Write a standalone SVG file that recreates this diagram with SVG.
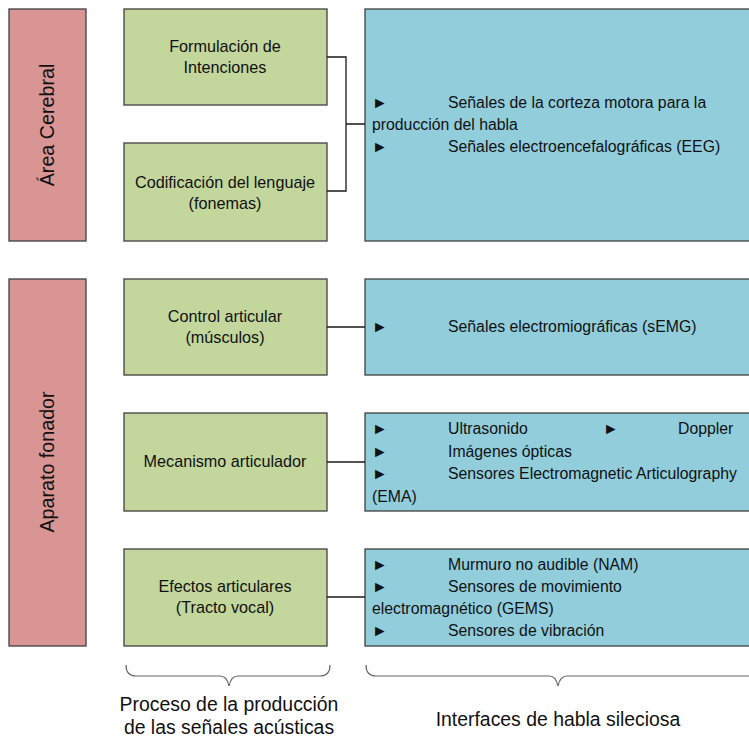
<svg xmlns="http://www.w3.org/2000/svg" width="749" height="740" viewBox="0 0 749 740">
<style>
text{font-family:"Liberation Sans",Arial,sans-serif;fill:#111}
.red{fill:#d99594;stroke:#404040;stroke-width:1.3}
.green{fill:#c3d69b;stroke:#404040;stroke-width:1.3}
.blue{fill:#92cddc;stroke:#404040;stroke-width:1.3}
.c{font-size:16.2px;text-anchor:middle}
.b{font-size:15.8px}
.v{font-size:19.7px;text-anchor:middle}
.lbl{font-size:19.4px;text-anchor:middle}
.conn{fill:none;stroke:#1a1a1a;stroke-width:1.3}
.brace{fill:none;stroke:#666;stroke-width:1.2}
</style>
<rect width="749" height="740" fill="#fff"/>
<g id="area-cerebral"><rect class="red" x="9" y="9" width="77" height="232"/><text class="v" transform="translate(54,125) rotate(-90)">Área Cerebral</text></g>
<g id="aparato-fonador"><rect class="red" x="9" y="279" width="77" height="367"/><text class="v" transform="translate(54,462) rotate(-90)">Aparato fonador</text></g>
<g id="formulacion"><rect class="green" x="124" y="9" width="203" height="96"/><text class="c" x="225" y="52">Formulación de</text><text class="c" x="225" y="73">Intenciones</text></g>
<g id="codificacion"><rect class="green" x="124" y="143" width="203" height="98"/><text class="c" x="225" y="188">Codificación del lenguaje</text><text class="c" x="225" y="209">(fonemas)</text></g>
<g id="control"><rect class="green" x="124" y="279" width="203" height="96"/><text class="c" x="225" y="322">Control articular</text><text class="c" x="225" y="343">(músculos)</text></g>
<g id="mecanismo"><rect class="green" x="124" y="413" width="203" height="98"/><text class="c" x="225" y="467">Mecanismo articulador</text></g>
<g id="efectos"><rect class="green" x="124" y="549" width="203" height="97"/><text class="c" x="225" y="592">Efectos articulares</text><text class="c" x="225" y="613">(Tracto vocal)</text></g>
<g id="senales-corteza"><rect class="blue" x="365" y="9" width="400" height="232"/>
<text class="b" x="372" y="108">►</text><text class="b" x="448" y="108">Señales de la corteza motora para la</text>
<text class="b" x="372" y="130">producción del habla</text>
<text class="b" x="372" y="152">►</text><text class="b" x="448" y="152">Señales electroencefalográficas (EEG)</text></g>
<g id="semg"><rect class="blue" x="365" y="279" width="400" height="96"/>
<text class="b" x="372" y="332">►</text><text class="b" x="448" y="332">Señales electromiográficas (sEMG)</text></g>
<g id="ultrasonido"><rect class="blue" x="365" y="413" width="400" height="98"/>
<text class="b" x="372" y="434">►</text><text class="b" x="448" y="434">Ultrasonido</text><text class="b" x="603" y="434">►</text><text class="b" x="678" y="434">Doppler</text>
<text class="b" x="372" y="457">►</text><text class="b" x="448" y="457">Imágenes ópticas</text>
<text class="b" x="372" y="479">►</text><text class="b" x="448" y="479">Sensores Electromagnetic Articulography</text>
<text class="b" x="372" y="502">(EMA)</text></g>
<g id="nam"><rect class="blue" x="365" y="549" width="400" height="97"/>
<text class="b" x="372" y="570">►</text><text class="b" x="448" y="570">Murmuro no audible (NAM)</text>
<text class="b" x="372" y="592">►</text><text class="b" x="448" y="592">Sensores de movimiento</text>
<text class="b" x="372" y="614">electromagnético (GEMS)</text>
<text class="b" x="372" y="636">►</text><text class="b" x="448" y="636">Sensores de vibración</text></g>
<g id="connectors">
<path class="conn" d="M327,57 H346 V191 H327 M346,124 H365"/>
<path class="conn" d="M327,327 H365"/>
<path class="conn" d="M327,462 H365"/>
<path class="conn" d="M327,597 H365"/>
</g>
<g id="braces">
<path class="brace" d="M126,665 Q126,676 136,676 H220 Q227,676 229,686 Q231,676 238,676 H320 Q330,676 330,665"/>
<path class="brace" d="M366,665 Q366,676 376,676 H549 Q556,676 558,686 Q560,676 567,676 H760"/>
<text class="lbl" x="229" y="711">Proceso de la producción</text>
<text class="lbl" x="229" y="734">de las señales acústicas</text>
<text class="lbl" x="558" y="726">Interfaces de habla sileciosa</text>
</g>
</svg>
